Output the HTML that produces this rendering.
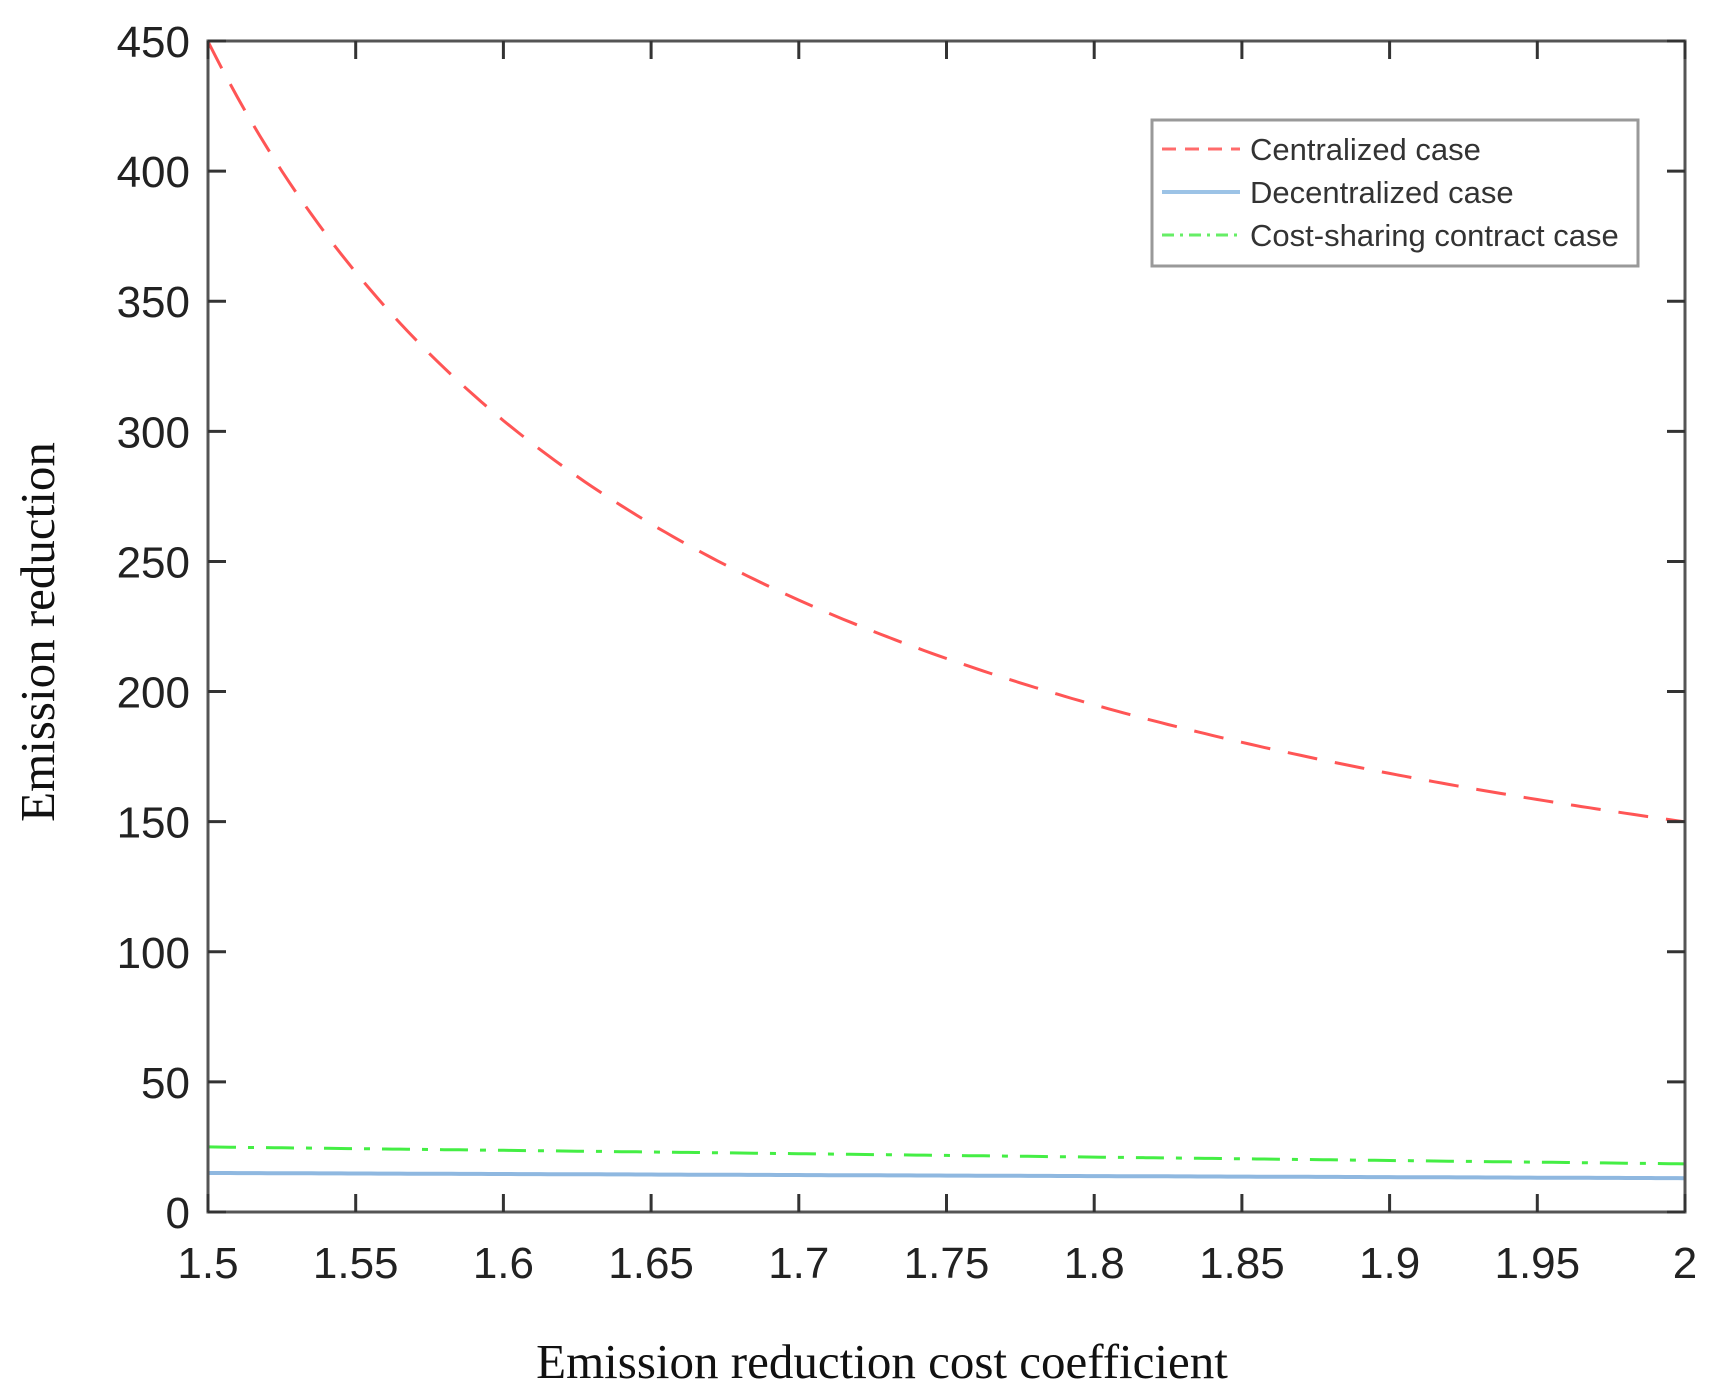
<!DOCTYPE html>
<html><head><style>body{margin:0;background:#fff}svg{display:block}</style></head><body>
<svg width="1716" height="1400" xmlns="http://www.w3.org/2000/svg" font-family="Liberation Sans, Arial, sans-serif">
<g id="plot"></g>
<rect x="208" y="41" width="1477" height="1171" fill="none" stroke="#555" stroke-width="3"/>
<g stroke="#333" stroke-width="3" id="ticks"></g>
<g font-size="44" fill="#222" text-anchor="end" id="ylab"></g>
<g font-size="44" fill="#222" text-anchor="middle" id="xlab"></g>
<text x="882" y="1378" font-family="Liberation Serif, serif" font-size="49" text-anchor="middle" fill="#111">Emission reduction cost coefficient</text>
<text transform="translate(54,632) rotate(-90)" font-family="Liberation Serif, serif" font-size="49" text-anchor="middle" fill="#111">Emission reduction</text>
<rect x="1152" y="120" width="486" height="146" fill="#fff" stroke="#999" stroke-width="3"/>
<line x1="1162" y1="149" x2="1240" y2="149" stroke="#ff6b6b" stroke-width="3" stroke-dasharray="14,9"/>
<line x1="1162" y1="192" x2="1240" y2="192" stroke="#9cc3e6" stroke-width="4"/>
<line x1="1162" y1="235" x2="1240" y2="235" stroke="#66ee66" stroke-width="3" stroke-dasharray="12,6,3,6"/>
<g font-size="31" fill="#333"><text x="1250" y="160">Centralized case</text><text x="1250" y="203">Decentralized case</text><text x="1250" y="246">Cost-sharing contract case</text></g>
<script>
var L=208,R=1685,T=41,B=1212;
function X(k){return L+(k-1.5)/0.5*(R-L)}function Y(v){return B-v/450*(B-T)}
var ns="http://www.w3.org/2000/svg",p=document.getElementById('plot');
function path(f,attrs){var d="";for(var i=0;i<=200;i++){var k=1.5+i*0.0025;d+=(i?"L":"M")+X(k).toFixed(1)+","+Y(f(k)).toFixed(1)}var e=document.createElementNS(ns,"path");e.setAttribute("d",d);e.setAttribute("fill","none");for(var a in attrs)e.setAttribute(a,attrs[a]);p.appendChild(e)}
path(function(k){return 42+73.4/(k-1.32)},{stroke:"#ff5555","stroke-width":3,"stroke-dasharray":"30,18"});
path(function(k){return 15-4*(k-1.5)},{stroke:"#8fb8e0","stroke-width":4});
path(function(k){return 25-13*(k-1.5)},{stroke:"#44ee44","stroke-width":3,"stroke-dasharray":"28,12,6,12"});
var t=document.getElementById('ticks'),yl=document.getElementById('ylab'),xl=document.getElementById('xlab');
function ln(a,b,c,d){var e=document.createElementNS(ns,"line");e.setAttribute("x1",a);e.setAttribute("y1",b);e.setAttribute("x2",c);e.setAttribute("y2",d);t.appendChild(e)}
function tx(g,x,y,s){var e=document.createElementNS(ns,"text");e.setAttribute("x",x);e.setAttribute("y",y);e.textContent=s;g.appendChild(e)}
for(var v=0;v<=450;v+=50){var y=Y(v);ln(L,y,L+18,y);ln(R,y,R-18,y);tx(yl,190,y+16,v)}
var xs=["1.5","1.55","1.6","1.65","1.7","1.75","1.8","1.85","1.9","1.95","2"];
for(var i=0;i<11;i++){var x=X(1.5+i*0.05);ln(x,B,x,B-18);ln(x,T,x,T+18);tx(xl,x,1278,xs[i])}
</script>
</svg>
</body></html>
